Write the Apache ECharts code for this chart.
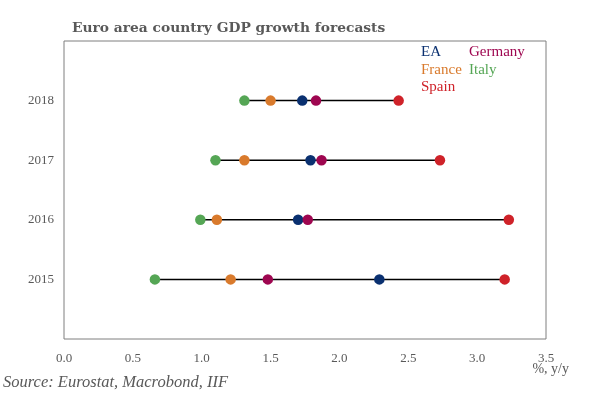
<!DOCTYPE html>
<html>
<head>
<meta charset="utf-8">
<script src="https://cdn.jsdelivr.net/npm/echarts@6/dist/echarts.min.js"></script>
<style>
  html, body { margin: 0; padding: 0; background: #fff; }
  #chart { width: 596px; height: 399px; }
</style>
</head>
<body>
<div id="chart"></div>
<script>
// years on the vertical axis (blank ends give the padding above 2018 and below 2015)
const years = ['2015', '2016', '2017', '2018'];
const yCategories = [''].concat(years, ['']);

// GDP growth forecasts, % y/y, one value per year
const ea      = [2.29, 1.70, 1.79, 1.73];
const germany = [1.48, 1.77, 1.87, 1.83];
const france  = [1.21, 1.11, 1.31, 1.50];
const italy   = [0.66, 0.99, 1.10, 1.31];
const spain   = [3.20, 3.23, 2.73, 2.43];

const xTicks = [0, 0.5, 1, 1.5, 2, 2.5, 3, 3.5];

const countries = [
  { name: 'EA',      values: ea,      color: '#0a3070' },
  { name: 'Germany', values: germany, color: '#9e0650' },
  { name: 'France',  values: france,  color: '#d97a2c' },
  { name: 'Italy',   values: italy,   color: '#55a655' },
  { name: 'Spain',   values: spain,   color: '#cf2229' }
];

const serif = 'Liberation Serif';
const grey = '#595959';

const chart = echarts.init(document.getElementById('chart'));

// black range line per year, from the lowest to the highest forecast
const rangeSeries = years.map((y, i) => {
  const vals = countries.map(c => c.values[i]);
  return {
    name: 'range ' + y,
    type: 'line',
    data: [[Math.min(...vals), y], [Math.max(...vals), y]],
    symbol: 'none',
    lineStyle: { color: '#000', width: 1.5 },
    silent: true,
    z: 1
  };
});

const dotSeries = countries.map(c => ({
  name: c.name,
  type: 'scatter',
  data: years.map((y, i) => [c.values[i], y]),
  symbolSize: 10.5,
  itemStyle: { color: c.color, opacity: 1 },
  z: 3
}));

const legendItem = name => {
  const c = countries.find(d => d.name === name);
  return { name, textStyle: { color: c.color } };
};
const legendBase = {
  orient: 'vertical',
  top: 45,
  icon: 'none',
  itemWidth: 0,
  itemHeight: 10,
  itemGap: 2.5,
  padding: 0,
  selectedMode: false,
  textStyle: { fontFamily: serif, fontSize: 15, padding: [0, 0, 0, -5] }
};

const option = {
  animation: false,
  backgroundColor: '#fff',
  title: {
    text: 'Euro area country GDP growth forecasts',
    left: 67,
    top: 16,
    textStyle: { fontFamily: 'DejaVu Serif', fontSize: 13.8, fontWeight: 'bold', color: grey }
  },
  legend: [
    Object.assign({}, legendBase, { left: 421, data: ['EA', 'France', 'Spain'].map(legendItem) }),
    Object.assign({}, legendBase, { left: 469, data: ['Germany', 'Italy'].map(legendItem) })
  ],
  grid: {
    left: 64, right: 50, top: 41, bottom: 60,
    show: true,
    borderColor: '#7f7f7f',
    borderWidth: 1
  },
  xAxis: {
    type: 'value',
    min: xTicks[0],
    max: xTicks[xTicks.length - 1],
    interval: 0.5,
    axisLine: { show: false },
    axisTick: { show: false },
    splitLine: { show: false },
    axisLabel: {
      margin: 13,
      color: grey,
      fontFamily: serif,
      fontSize: 13,
      formatter: v => v.toFixed(1)
    }
  },
  yAxis: {
    type: 'category',
    data: yCategories,
    boundaryGap: false,
    axisLine: { show: false },
    axisTick: { show: false },
    splitLine: { show: false },
    axisLabel: { margin: 10, color: grey, fontFamily: serif, fontSize: 13 }
  },
  graphic: [
    {
      type: 'text', right: 27, top: 362,
      style: { text: '%, y/y', fill: grey, font: '14px "Liberation Serif"' }
    },
    {
      type: 'text', left: 3, top: 374,
      style: { text: 'Source: Eurostat, Macrobond, IIF', fill: grey, font: 'italic 16.5px "Liberation Serif"' }
    }
  ],
  series: rangeSeries.concat(dotSeries)
};

chart.setOption(option);
window.addEventListener('resize', () => chart.resize());
</script>
</body>
</html>
